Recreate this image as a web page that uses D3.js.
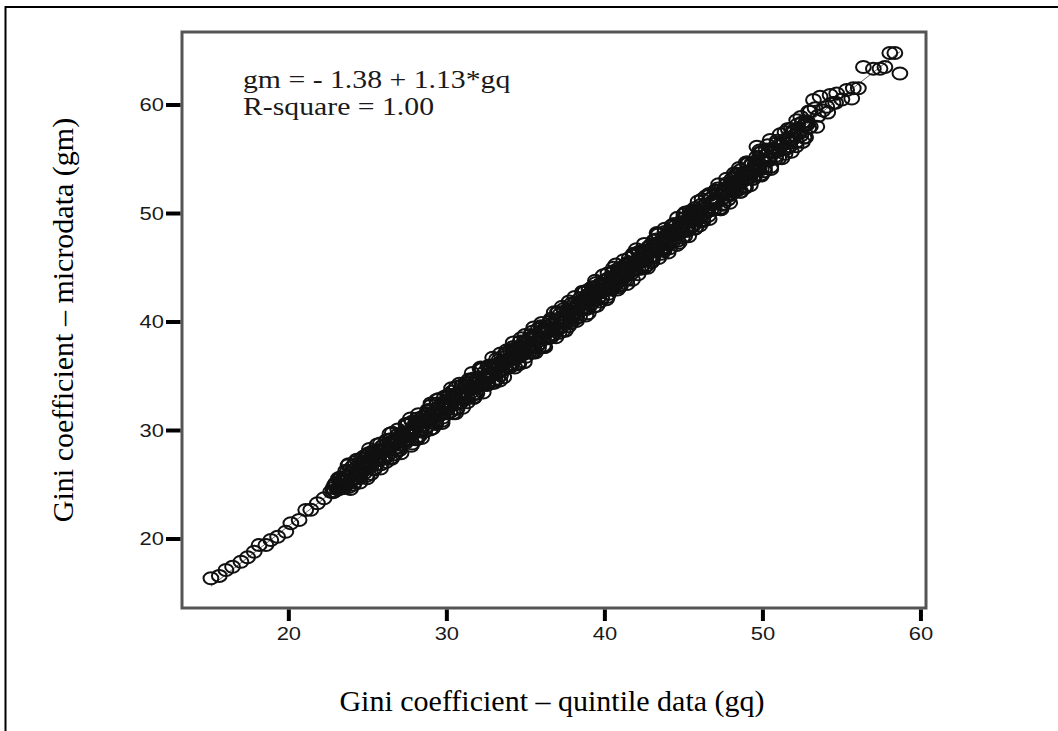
<!DOCTYPE html>
<html><head><meta charset="utf-8">
<script src="https://cdn.jsdelivr.net/npm/d3@7"></script>
<style>html,body{margin:0;padding:0;background:#fff;}svg{display:block;}</style>
</head><body>
<svg id="c" width="1058" height="731"></svg>
<script>
// ---- data ----
const xTicks = [20, 30, 40, 50, 60];
const yTicks = [20, 30, 40, 50, 60];
const xTitle = "Gini coefficient \u2013 quintile data (gq)";
const yTitle = "Gini coefficient \u2013 microdata (gm)";
const fitText = ["gm = - 1.38 + 1.13*gq", "R-square = 1.00"];
const fitIntercept = -1.38, fitSlope = 1.13;

const gqLow = [15.07,15.6,16.02,16.44,16.97,17.39,17.81,18.12,18.55,18.86,19.29,19.81,20.13,20.65,21.07,21.39,21.81,22.23,22.65];
const gmLow = [16.38,16.6,17.14,17.45,17.91,18.31,18.83,19.45,19.45,19.9,20.2,20.67,21.45,21.75,22.67,22.7,23.3,23.75,24.36];

const gqA = [22.8,22.9,23.0,23.1,23.2,23.3,23.4,23.5,23.6,23.7,23.8,23.9,24.0,24.1,24.2,24.3,24.4,24.5,24.6,24.7,24.8,24.9,
25.0,25.1,25.2,25.3,25.4,25.5,25.6,25.7,25.8,25.9,26.0,26.1,26.2,26.3,26.4,26.5,26.6,26.7,26.8,26.9,
27.0,27.1,27.2,27.3,27.4,27.5,27.6,27.7,27.8,27.9,28.0,28.1,28.2,28.3,28.4,28.5,28.6,28.7,28.8,28.9,
29.0,29.1,29.2,29.3,29.4,29.5,29.6,29.7,29.8,29.9,30.0,30.1,30.2,30.3,30.4,30.5,30.6,30.7,30.8,30.9,
31.0,31.1,31.2,31.3,31.4,31.5,31.6,31.7,31.8,31.9,32.0,32.1,32.2,32.3,32.4,32.5,32.6,32.7,32.8,32.9,
33.0,33.1,33.2,33.3,33.4,33.5,33.6,33.7,33.8,33.9,34.0,34.1,34.2,34.3,34.4,34.5,34.6,34.7,34.8,34.9,
35.0,35.1,35.2,35.3,35.4,35.5,35.6,35.7,35.8,35.9,36.0,36.1,36.2,36.3,36.4,36.5,36.6,36.7,36.8,36.9,
37.0,37.1,37.2,37.3,37.4,37.5,37.6,37.7,37.8,37.9,38.0,38.1,38.2,38.3,38.4,38.5,38.6,38.7,38.8,38.9,
39.0,39.1,39.2,39.3,39.4,39.5,39.6,39.7,39.8,39.9,40.0,40.1,40.2,40.3,40.4,40.5,40.6,40.7,40.8,40.9,
41.0,41.1,41.2,41.3,41.4,41.5,41.6,41.7,41.8,41.9,42.0,42.1,42.2,42.3,42.4,42.5,42.6,42.7,42.8,42.9,
43.0,43.1,43.2,43.3,43.4,43.5,43.6,43.7,43.8,43.9,44.0,44.1,44.2,44.3,44.4,44.5,44.6,44.7,44.8,44.9,
45.0,45.1,45.2,45.3,45.4,45.5,45.6,45.7,45.8,45.9,46.0,46.1,46.2,46.3,46.4,46.5,46.6,46.7,46.8,46.9,
47.0,47.1,47.2,47.3,47.4,47.5,47.6,47.7,47.8,47.9,48.0,48.1,48.2,48.3,48.4,48.5,48.6,48.7,48.8,48.9,
49.0,49.1,49.2,49.3,49.4,49.5,49.6,49.7,49.8,49.9,50.0,50.1,50.2,50.3,50.4,50.5,50.6,50.7,50.8,50.9,
51.0,51.1,51.2,51.3,51.4,51.5,51.6,51.7,51.8,51.9,52.0,52.1,52.2,52.3,52.4,52.5,52.6,52.7,52.8,52.9,53.0];
const gmA = [24.7,24.4,25.1,24.7,25.5,24.7,25.5,25.3,25.0,26.2,24.8,26.1,25.9,25.6,27.1,25.6,26.4,25.8,27.4,26.5,27.2,25.8,
27.2,27.0,26.7,27.9,26.5,27.8,27.6,27.3,28.8,27.4,28.2,27.5,29.1,28.2,28.9,27.5,28.9,28.7,28.4,29.6,
28.2,29.5,29.3,29.1,30.6,29.1,29.9,29.2,30.8,29.9,30.6,29.2,30.6,30.4,30.1,31.3,29.9,31.3,31.1,30.8,
32.3,30.8,31.6,30.9,32.5,31.6,32.3,30.9,32.3,32.1,31.9,33.1,31.7,33.0,32.8,32.5,34.0,32.5,33.3,32.6,
34.2,33.3,34.0,32.6,34.1,33.9,33.6,34.8,33.4,34.7,34.5,34.2,35.7,34.2,35.0,34.3,35.9,35.0,35.8,34.4,
35.8,35.6,35.3,36.5,35.1,36.4,36.2,35.9,37.4,35.9,36.7,36.1,37.7,36.8,37.5,36.1,37.5,37.3,37.0,38.2,
36.8,38.1,37.9,37.6,39.1,37.7,38.5,37.8,39.4,38.5,39.2,37.8,39.2,39.0,38.7,40.0,38.6,39.9,39.7,39.4,
40.9,39.4,40.2,39.6,41.2,40.3,41.0,39.6,41.0,40.8,40.5,41.7,40.4,41.7,41.5,41.2,42.7,41.2,42.0,41.3,
43.0,42.1,42.8,41.4,42.8,42.6,42.3,43.5,42.2,43.5,43.3,43.0,44.5,43.0,43.8,43.1,44.7,43.9,44.6,43.2,
44.6,44.4,44.1,45.3,43.9,45.3,45.1,44.8,46.3,44.8,45.6,44.9,46.5,45.7,46.4,45.0,46.4,46.2,45.9,47.1,
45.7,47.0,46.9,46.6,48.1,46.6,47.4,46.7,48.3,47.4,48.1,46.8,48.2,48.0,47.7,48.9,47.5,48.8,48.6,48.4,
49.9,48.4,49.2,48.5,50.2,49.3,50.0,48.6,50.0,49.8,49.6,50.8,49.4,50.7,50.5,50.3,51.8,50.3,51.1,50.4,
52.1,51.2,51.9,50.5,51.9,51.8,51.5,52.7,51.3,52.6,52.4,52.2,53.7,52.2,53.0,52.3,54.0,53.1,53.8,52.4,
53.8,53.7,53.4,54.6,53.2,54.5,54.4,54.1,55.6,54.1,54.9,54.2,55.9,55.0,55.7,54.3,55.7,55.6,55.3,56.5,
55.1,56.4,56.3,56.0,57.5,56.0,56.8,56.2,57.8,56.9,57.6,56.2,57.6,57.5,57.2,58.4,57.0,58.3,58.2,57.9,59.4];
// a second observation at each of the gqA positions
const gmA2 = [24.3,25.0,25.2,24.6,24.6,25.7,25.3,24.7,26.3,25.4,26.9,24.6,26.1,25.0,26.4,27.3,25.9,25.2,27.1,26.7,26.1,27.7,
26.8,28.3,26.0,27.5,26.4,27.8,28.7,27.3,26.5,28.5,28.1,27.5,29.1,28.2,29.7,27.4,28.9,27.8,29.2,30.1,
28.7,27.9,29.8,29.5,28.9,30.5,29.6,31.1,28.8,30.3,29.2,30.6,31.5,30.1,29.3,31.2,30.8,30.3,31.9,31.0,
32.5,30.2,31.7,30.6,32.0,32.9,31.5,30.7,32.6,32.2,31.6,33.3,32.4,33.9,31.6,33.1,32.0,33.4,34.3,32.9,
32.1,34.0,33.6,33.0,34.7,33.8,35.3,33.0,34.5,33.4,34.8,35.7,34.3,33.5,35.4,35.0,34.4,36.0,35.2,36.7,
34.4,35.9,34.8,36.2,37.1,35.7,34.9,36.8,36.4,35.8,37.4,36.6,38.1,35.8,37.3,36.2,37.6,38.5,37.1,36.3,
38.2,37.8,37.2,38.8,37.9,39.5,37.2,38.7,37.6,39.0,39.9,38.5,37.7,39.6,39.2,38.7,40.3,39.4,40.9,38.6,
40.1,39.0,40.4,41.4,40.0,39.2,41.1,40.7,40.1,41.7,40.8,42.3,40.1,41.6,40.5,41.9,42.8,41.4,40.6,42.5,
42.2,41.6,43.2,42.3,43.8,41.5,43.0,41.9,43.4,44.3,42.9,42.1,44.0,43.6,43.0,44.6,43.7,45.3,43.0,44.5,
43.4,44.8,45.7,44.3,43.5,45.5,45.1,44.5,46.1,45.2,46.7,44.4,45.9,44.9,46.3,47.2,45.8,45.0,46.9,46.5,
45.9,47.5,46.7,48.2,45.9,47.4,46.3,47.7,48.6,47.2,46.4,48.4,48.0,47.4,49.0,48.1,49.6,47.3,48.8,47.8,
49.2,50.1,48.7,47.9,49.9,49.5,48.9,50.5,49.6,51.1,48.9,50.4,49.3,50.7,51.6,50.3,49.5,51.4,51.0,50.4,
52.1,51.2,52.7,50.4,51.9,50.9,52.3,53.2,51.8,51.0,52.9,52.6,52.0,53.6,52.7,54.2,52.0,53.5,52.4,53.8,
54.7,53.3,52.6,54.5,54.1,53.5,55.2,54.3,55.8,53.5,55.0,53.9,55.4,56.3,54.9,54.1,56.0,55.7,55.1,56.7,
55.8,57.3,55.1,56.6,55.5,56.9,57.8,56.5,55.7,57.6,57.2,56.6,58.2,57.4,58.9,56.6,58.1,57.0,58.5,59.4,58.0];

const gqB = [23.05,23.25,23.45,23.65,23.85,24.05,24.25,24.45,24.65,24.85,25.05,25.25,25.45,25.65,25.85,26.05,26.25,26.45,26.65,26.85,
27.05,27.25,27.45,27.65,27.85,28.05,28.25,28.45,28.65,28.85,29.05,29.25,29.45,29.65,29.85,30.05,30.25,30.45,30.65,30.85,
31.05,31.25,31.45,31.65,31.85,32.05,32.25,32.45,32.65,32.85,33.05,33.25,33.45,33.65,33.85,34.05,34.25,34.45,34.65,34.85,
35.05,35.25,35.45,35.65,35.85,36.05,36.25,36.45,36.65,36.85,37.05,37.25,37.45,37.65,37.85,38.05,38.25,38.45,38.65,38.85,
39.05,39.25,39.45,39.65,39.85,40.05,40.25,40.45,40.65,40.85,41.05,41.25,41.45,41.65,41.85,42.05,42.25,42.45,42.65,42.85,
43.05,43.25,43.45,43.65,43.85,44.05,44.25,44.45,44.65,44.85,45.05,45.25,45.45,45.65,45.85,46.05,46.25,46.45,46.65,46.85,
47.05,47.25,47.45,47.65,47.85,48.05,48.25,48.45,48.65,48.85,49.05,49.25,49.45,49.65,49.85];
const gmB = [24.6,25.6,24.9,25.7,25.2,26.7,26.1,25.6,26.9,26.4,27.9,27.1,27.2,28.2,26.9,28.3,27.7,29.2,28.7,28.2,
29.5,29.0,30.5,29.6,29.7,30.8,29.5,30.9,30.3,31.8,31.2,30.7,32.1,31.6,33.1,32.2,32.3,33.3,32.0,33.5,
32.9,34.4,33.8,33.3,34.6,34.1,35.7,34.8,34.9,35.9,34.6,36.0,35.5,37.0,36.4,35.9,37.2,36.7,38.2,37.4,
37.5,38.5,37.2,38.6,38.0,39.5,39.0,38.5,39.8,39.3,40.9,40.0,40.1,41.1,39.9,41.3,40.7,42.2,41.7,41.2,
42.5,42.0,43.6,42.7,42.8,43.8,42.6,44.0,43.4,44.9,44.3,43.9,45.2,44.7,46.2,45.4,45.5,46.5,45.2,46.7,
46.1,47.6,47.0,46.6,47.9,47.4,48.9,48.1,48.2,49.2,47.9,49.4,48.8,50.3,49.8,49.3,50.7,50.2,51.7,50.9,
51.0,52.1,50.8,52.2,51.7,53.2,52.6,52.2,53.5,53.1,54.6,53.7,53.9,54.9,53.6];

const gqC = [23.15,23.35,23.55,23.75,23.95,24.15,24.35,24.55,24.75,24.95,25.15,25.35,25.55,25.75,25.95,26.15,26.35,26.55,26.75,26.95,
27.15,27.35,27.55,27.75,27.95,28.15,28.35,28.55,28.75,28.95,29.15,29.35,29.55,29.75,29.95,30.15,30.35,30.55,30.75,30.95,
31.15,31.35,31.55,31.75,31.95,32.15,32.35,32.55,32.75,32.95,33.15,33.35,33.55,33.75,33.95,34.15,34.35,34.55,34.75,34.95,
35.15,35.35,35.55,35.75,35.95,36.15,36.35,36.55,36.75,36.95,37.15,37.35,37.55,37.75,37.95,38.15,38.35,38.55,38.75,38.95,
39.15,39.35,39.55,39.75,39.95,40.15,40.35,40.55,40.75,40.95,41.15,41.35,41.55,41.75,41.95,42.15,42.35,42.55,42.75,42.95,
43.15,43.35,43.55,43.75,43.95,44.15,44.35,44.55,44.75,44.95,45.15,45.35,45.55,45.75,45.95,46.15,46.35,46.55,46.75,46.95,
47.15,47.35,47.55,47.75,47.95,48.15,48.35,48.55,48.75,48.95,49.15,49.35,49.55,49.75,49.95];
const gmC = [25.6,24.7,25.5,26.8,25.4,25.2,26.7,26.2,27.6,25.6,27.1,28.1,26.9,28.0,28.6,27.1,28.5,29.8,28.4,28.2,
29.7,29.2,30.6,28.6,30.1,31.1,29.9,31.0,31.6,30.1,31.5,32.8,31.4,31.2,32.7,32.2,33.6,31.6,33.1,34.1,
32.9,34.0,34.6,33.1,34.5,35.8,34.4,34.2,35.7,35.2,36.6,34.6,36.1,37.1,35.9,37.0,37.6,36.1,37.5,38.8,
37.4,37.2,38.7,38.2,39.6,37.7,39.1,40.1,38.9,40.1,40.7,39.2,40.6,41.9,40.5,40.3,41.8,41.3,42.8,40.8,
42.2,43.2,42.1,43.2,43.8,42.3,43.8,45.0,43.6,43.4,45.0,44.5,45.9,43.9,45.4,46.4,45.2,46.3,46.9,45.5,
46.9,48.1,46.7,46.6,48.1,47.6,49.0,47.1,48.5,49.5,48.4,49.5,50.1,48.7,50.1,51.3,50.0,49.8,51.4,50.9,
52.3,50.4,51.8,52.8,51.7,52.8,53.5,52.0,53.4,54.7,53.3,53.2,54.7,54.2,55.7];

const gqHigh = [49.62,50.46,52.14,52.78,53.41,53.2,53.3,53.5,53.62,53.8,54.04,54.1,54.25,54.44,54.6,54.67,55.0,55.3,55.62,55.72,56.04,56.36,56.99,57.41,57.72,58.03,58.35,58.67];
const gmHigh = [56.16,56.77,58.6,58.3,57.99,60.46,59.7,59.0,60.77,59.5,59.84,59.3,60.92,60.18,60.2,61.07,60.5,61.38,60.6,61.54,61.54,63.5,63.35,63.35,63.5,64.8,64.8,62.9];

// ---- drawing ----
const svg = d3.select("#c");
const pLeft = 182, pRight = 926, pTop = 32, pBottom = 608;
const x = d3.scaleLinear().domain([13.24, 60.32]).range([pLeft, pRight]);
const y = d3.scaleLinear().domain([13.64, 66.73]).range([pBottom, pTop]);

// outer frame
svg.append("rect").attr("x", 5.5).attr("y", 7).attr("width", 1100).attr("height", 800)
  .attr("fill", "none").attr("stroke", "#000").attr("stroke-width", 2);

function stretchedText(px, py, str, opts) {
  const g = svg.append("g").attr("transform", `translate(${px},${py}) scale(${opts.sx},1)`);
  return g.append("text").text(str)
    .attr("font-family", opts.family).attr("font-size", opts.size)
    .attr("text-anchor", opts.anchor || "start")
    .attr("dominant-baseline", opts.baseline || "alphabetic")
    .attr("fill", opts.fill || "#1a1a1a");
}

// regression line
const fitX = [d3.min(gqLow), d3.max(gqHigh)];
svg.append("line")
  .attr("x1", x(fitX[0])).attr("y1", y(fitIntercept + fitSlope * fitX[0]))
  .attr("x2", x(fitX[1])).attr("y2", y(fitIntercept + fitSlope * fitX[1]))
  .attr("stroke", "#666").attr("stroke-width", 1);

// points
const pts = [];
[[gqLow, gmLow], [gqA, gmA], [gqA, gmA2], [gqB, gmB], [gqC, gmC], [gqHigh, gmHigh]]
  .forEach(([a, b]) => a.forEach((v, i) => pts.push([v, b[i]])));
svg.append("g").selectAll("ellipse").data(pts).join("ellipse")
  .attr("cx", d => x(d[0])).attr("cy", d => y(d[1]))
  .attr("rx", 7.4).attr("ry", 6)
  .attr("fill", "none").attr("stroke", "#111").attr("stroke-width", 2);

// plot frame
svg.append("rect").attr("x", pLeft).attr("y", pTop).attr("width", pRight - pLeft).attr("height", pBottom - pTop)
  .attr("fill", "none").attr("stroke", "#555").attr("stroke-width", 3);

// axes ticks
const sansFont = "Liberation Sans, Arial, sans-serif";
const serifFont = "Liberation Serif, Times New Roman, serif";
const yAxis = svg.append("g");
yTicks.forEach(t => {
  yAxis.append("line").attr("x1", pLeft - 16).attr("x2", pLeft - 1.5).attr("y1", y(t)).attr("y2", y(t))
    .attr("stroke", "#000").attr("stroke-width", 4);
  stretchedText(pLeft - 18, y(t), String(t), {family: sansFont, size: 18, anchor: "end", baseline: "central", sx: 1.22});
});
const xAxis = svg.append("g");
xTicks.forEach(t => {
  xAxis.append("line").attr("x1", x(t)).attr("x2", x(t)).attr("y1", pBottom + 1.5).attr("y2", pBottom + 13)
    .attr("stroke", "#000").attr("stroke-width", 4);
  stretchedText(x(t), 640, String(t), {family: sansFont, size: 18, anchor: "middle", sx: 1.22});
});

// axis titles
stretchedText(552, 711, xTitle, {family: serifFont, size: 30, anchor: "middle", sx: 1.0, fill: "#000"});
svg.append("text").text(yTitle)
  .attr("transform", `translate(73,320) rotate(-90)`)
  .attr("font-family", serifFont).attr("font-size", 30)
  .attr("text-anchor", "middle").attr("fill", "#000");

// fit annotation
fitText.forEach((s, i) => stretchedText(243, 88 + i * 27, s, {family: serifFont, size: 25, sx: 1.19}));
</script>
</body></html>
